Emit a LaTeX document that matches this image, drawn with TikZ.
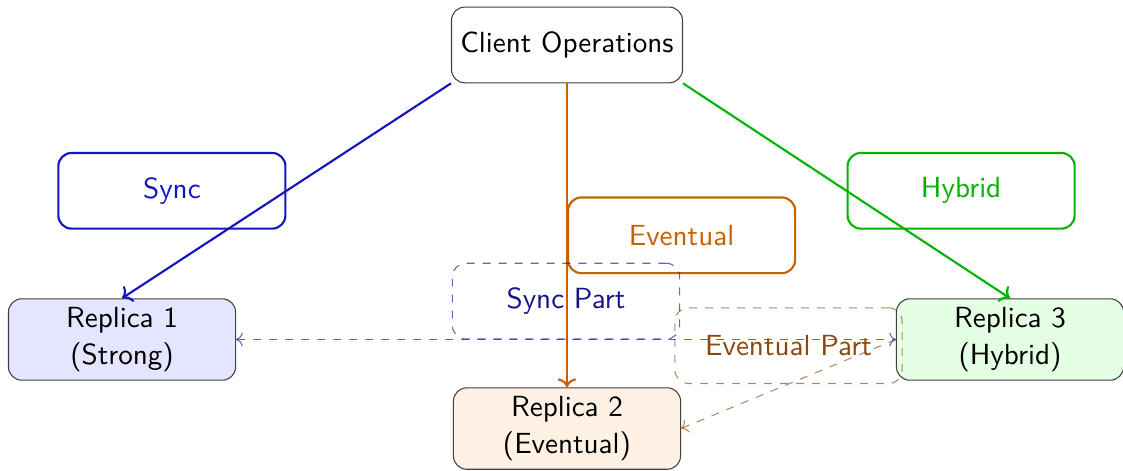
\documentclass[tikz,border=0pt]{standalone}
\usetikzlibrary{arrows.meta}
\definecolor{syncblue}{RGB}{20,20,195}
\definecolor{evorange}{RGB}{195,98,0}
\definecolor{hybgreen}{RGB}{0,180,0}
\definecolor{partblue}{RGB}{20,20,140}
\definecolor{partbrown}{RGB}{140,72,12}
\begin{document}
\begin{tikzpicture}[
  every node/.style={font=\sffamily\fontsize{10.95}{13.6}\selectfont},
  replica/.style={draw=black!75, rounded corners=5pt, minimum width=3cm,
    minimum height=1cm, align=center},
  modebox/.style={draw, thick, rounded corners=5pt, minimum width=3cm,
    minimum height=1cm, fill=none},
  partbox/.style={draw, dashed, rounded corners=5pt, minimum width=3cm,
    minimum height=1cm},
  link/.style={->, thick},
]
\useasboundingbox (0,0) rectangle (14.835,-6.209);

% client and the three replicas
\node[replica] (client) at (7.490,-0.594) {Client Operations};
\node[replica, fill=blue!10] (r1) at (1.612,-4.485) {Replica 1\\(Strong)};
\node[replica, fill=orange!10] (r2) at (7.490,-5.661) {Replica 2\\(Eventual)};
\node[replica, fill=green!10] (r3) at (13.342,-4.485) {Replica 3\\(Hybrid)};

% write paths from the client, one per consistency mode
\draw[link, syncblue] (client.south west) -- node[modebox, midway, left, text=syncblue] (lsync) {Sync} (r1.north);
\draw[link, evorange] (client.south) -- node[modebox, midway, right, text=evorange] (lev) {Eventual} (r2.north);
\draw[link, hybgreen] (client.south east) -- node[modebox, midway, right, text=hybgreen] (lhyb) {Hybrid} (r3.north);

% replication links of the hybrid replica
\draw[<->, dashed, partblue, draw opacity=0.65] (r1.east) -- node[partbox, midway, above, text=partblue] (lsp) {Sync Part} (r3.west);
\draw[->, dashed, partbrown, draw opacity=0.65] (r3.west) -- node[partbox, midway, above, text=partbrown] (lep) {Eventual Part} (r2.east);
\end{tikzpicture}
\end{document}
